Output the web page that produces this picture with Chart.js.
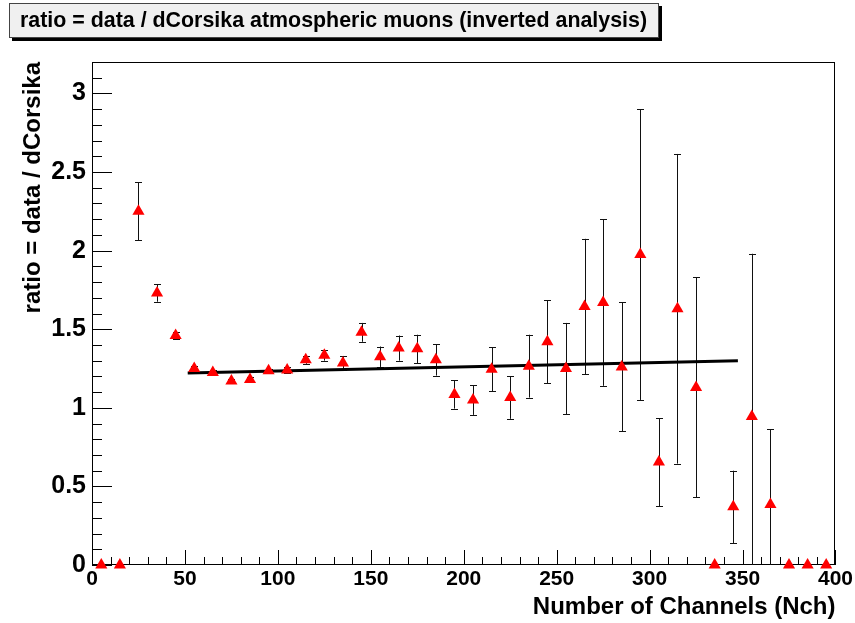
<!DOCTYPE html>
<html>
<head>
<meta charset="utf-8">
<script src="https://cdn.jsdelivr.net/npm/chart.js@4.4.1/dist/chart.umd.min.js"></script>
<style>
  html, body { margin: 0; padding: 0; background: #fff; }
  #wrap { position: relative; width: 855px; height: 623px; }
  #ratioChart { position: absolute; left: 0; top: 0; }
  #titleBox {
    position: absolute; left: 9px; top: 3px; width: 650px; height: 35px;
    box-sizing: border-box; background: #f0f0f0; border: 1px solid #444;
    box-shadow: 3px 3px 0 #000;
    font: bold 21.4px "Liberation Sans", Arial, sans-serif; color: #000;
    line-height: 33px; padding-left: 10px; white-space: nowrap;
  }
</style>
</head>
<body>
<div id="wrap">
  <canvas id="ratioChart" width="855" height="623"></canvas>
  <div id="titleBox">ratio = data / dCorsika atmospheric muons (inverted analysis)</div>
</div>
<script>
// bin centres (Nch) and the data/MC ratio with its error
const binCenters = [5, 15, 25, 35, 45, 55, 65, 75, 85, 95,
  105, 115, 125, 135, 145, 155, 165, 175, 185, 195,
  205, 215, 225, 235, 245, 255, 265, 275, 285, 295,
  305, 315, 325, 335, 345, 355, 365, 375, 385, 395];
const ratio = [0, 0, 2.25, 1.73, 1.46, 1.25, 1.225, 1.17, 1.18, 1.235,
  1.24, 1.305, 1.335, 1.285, 1.48, 1.325, 1.38, 1.375, 1.305, 1.085,
  1.05, 1.245, 1.065, 1.265, 1.42, 1.25, 1.645, 1.67, 1.26, 1.975,
  0.655, 1.63, 1.13, 0, 0.37, 0.945, 0.385, 0, 0, 0];
const ratioErr = [0, 0, 0.185, 0.055, 0.02, 0.015, 0.015, 0.015, 0.015, 0.015,
  0.02, 0.025, 0.035, 0.045, 0.06, 0.065, 0.08, 0.09, 0.1, 0.09,
  0.095, 0.14, 0.135, 0.2, 0.265, 0.29, 0.43, 0.53, 0.41, 0.925,
  0.28, 0.985, 0.7, 0, 0.23, 1.035, 0.48, 0, 0, 0];

// linear fit line
const fitX = [51.5, 347.5];
const fitY = [1.221, 1.30];

const yTickLabels = ['0', '0.5', '1', '1.5', '2', '2.5', '3'];
const xTickLabels = ['0', '50', '100', '150', '200', '250', '300', '350', '400'];

const fontFamily = '"Liberation Sans", Arial, sans-serif';

// error bars, drawn under the markers
const errorBars = {
  id: 'errorBars',
  beforeDatasetsDraw(chart) {
    const { ctx, chartArea: a, scales: { x, y } } = chart;
    ctx.save();
    ctx.beginPath();
    ctx.rect(a.left, a.top, a.right - a.left, a.bottom - a.top);
    ctx.clip();
    ctx.strokeStyle = '#111';
    ctx.lineWidth = 1;
    ctx.beginPath();
    binCenters.forEach(function(c, i) {
      const e = ratioErr[i];
      if (!e) return;
      const px = Math.round(x.getPixelForValue(c)) + 0.5;
      const yHi = y.getPixelForValue(ratio[i] + e);
      const yLo = y.getPixelForValue(Math.max(ratio[i] - e, 0));
      ctx.moveTo(px, yHi);
      ctx.lineTo(px, yLo);
      ctx.moveTo(px - 3.5, Math.round(yHi) + 0.5);
      ctx.lineTo(px + 3.5, Math.round(yHi) + 0.5);
      if (ratio[i] - e > 0) {
        ctx.moveTo(px - 3.5, Math.round(yLo) + 0.5);
        ctx.lineTo(px + 3.5, Math.round(yLo) + 0.5);
      }
    });
    ctx.stroke();
    ctx.restore();
  }
};

// ROOT style frame with inward ticks
const rootFrame = {
  id: 'rootFrame',
  beforeDatasetsDraw(chart) {
    const { ctx, chartArea: a, scales: { x, y } } = chart;
    ctx.save();
    ctx.strokeStyle = '#000';
    ctx.lineWidth = 1;
    ctx.beginPath();
    for (let i = 0; i <= 40; i++) {
      const px = Math.round(x.getPixelForValue(i * 10)) + 0.5;
      const len = i % 5 === 0 ? 15 : 8;
      ctx.moveTo(px, a.bottom);
      ctx.lineTo(px, a.bottom - len);
    }
    for (let i = 0; i <= 32; i++) {
      const py = Math.round(y.getPixelForValue(i / 10)) + 0.5;
      const len = i % 5 === 0 ? 20 : 10;
      ctx.moveTo(a.left, py);
      ctx.lineTo(a.left + len, py);
    }
    ctx.stroke();
    ctx.strokeRect(Math.round(a.left) + 0.5, Math.round(a.top) + 0.5,
      Math.round(a.right - a.left) - 1, Math.round(a.bottom - a.top) - 1);
    ctx.restore();
  }
};

const ctx = document.getElementById('ratioChart');

new Chart(ctx, {
  type: 'scatter',
  data: {
    datasets: [
      {
        type: 'line',
        data: fitX.map(function(v, i) { return { x: v, y: fitY[i] }; }),
        borderColor: '#000',
        borderWidth: 3,
        pointRadius: 0,
        fill: false,
        order: 2
      },
      {
        data: binCenters.map(function(v, i) { return { x: v, y: ratio[i] }; }),
        pointStyle: 'triangle',
        pointRadius: 7,
        backgroundColor: '#ff0000',
        borderColor: '#ff0000',
        borderWidth: 0,
        clip: false,
        order: 1
      }
    ]
  },
  options: {
    responsive: false,
    animation: false,
    events: [],
    layout: { padding: { left: 10, top: 62, right: 19, bottom: 0 } },
    plugins: { legend: { display: false }, tooltip: { enabled: false } },
    scales: {
      x: {
        type: 'linear',
        min: 0,
        max: 400,
        afterFit: function(scale) { scale.height = 58; },
        grid: { display: false, drawTicks: false },
        border: { display: false },
        ticks: {
          stepSize: 50,
          padding: 2,
          color: '#000',
          maxRotation: 0,
          font: { family: fontFamily, size: 21, weight: 'bold' },
          callback: function(v) { return xTickLabels[v / 50]; }
        },
        title: {
          display: true,
          text: 'Number of Channels (Nch)',
          align: 'end',
          color: '#000',
          padding: { top: 0, bottom: 1 },
          font: { family: fontFamily, size: 24, weight: 'bold' }
        }
      },
      y: {
        type: 'linear',
        min: 0,
        max: 3.2,
        afterFit: function(scale) { scale.width = 82; },
        grid: { display: false, drawTicks: false },
        border: { display: false },
        ticks: {
          stepSize: 0.5,
          includeBounds: false,
          padding: 6,
          color: '#000',
          font: { family: fontFamily, size: 25, weight: 'bold' },
          callback: function(v) {
            const k = Math.round(v * 2);
            return Math.abs(v * 2 - k) < 1e-6 ? yTickLabels[k] : '';
          }
        },
        title: {
          display: true,
          text: 'ratio = data / dCorsika',
          align: 'end',
          color: '#000',
          padding: { top: 9, bottom: 0 },
          font: { family: fontFamily, size: 24, weight: 'bold' }
        }
      }
    }
  },
  plugins: [rootFrame, errorBars]
});
</script>
</body>
</html>
